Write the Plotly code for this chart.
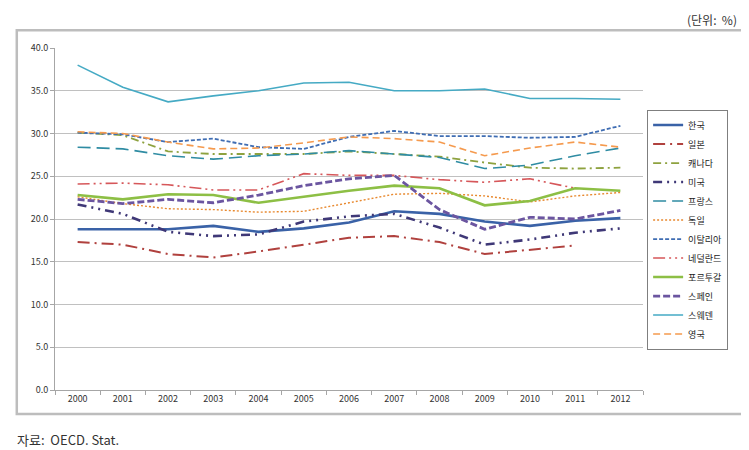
import plotly.graph_objects as go

years = [str(y) for y in range(2000, 2013)]

korea       = [18.8, 18.8, 18.8, 19.2, 18.5, 18.9, 19.6, 20.9, 20.6, 19.7, 19.2, 19.8, 20.1]
japan       = [17.3, 17.0, 15.9, 15.5, 16.2, 17.0, 17.8, 18.0, 17.3, 15.9, 16.4, 16.9, None]
canada      = [30.1, 29.8, 27.9, 27.6, 27.6, 27.6, 27.9, 27.6, 27.3, 26.6, 26.0, 25.9, 26.0]
usa         = [21.7, 20.6, 18.5, 18.0, 18.2, 19.7, 20.3, 20.6, 19.0, 17.0, 17.6, 18.4, 18.9]
france      = [28.4, 28.2, 27.4, 27.0, 27.4, 27.6, 28.0, 27.6, 27.2, 25.9, 26.3, 27.4, 28.3]
germany     = [22.6, 21.8, 21.2, 21.1, 20.8, 20.9, 21.9, 22.9, 23.0, 22.7, 22.0, 22.7, 23.1]
italy       = [30.1, 29.9, 29.0, 29.4, 28.4, 28.2, 29.6, 30.3, 29.7, 29.7, 29.5, 29.6, 30.9]
netherlands = [24.1, 24.2, 24.0, 23.4, 23.4, 25.3, 25.1, 25.1, 24.6, 24.3, 24.7, 23.6, None]
portugal    = [22.8, 22.3, 22.9, 22.8, 21.9, 22.6, 23.3, 23.9, 23.6, 21.6, 22.1, 23.6, 23.3]
spain       = [22.3, 21.8, 22.3, 21.9, 22.8, 23.9, 24.7, 25.1, 21.1, 18.8, 20.2, 20.0, 21.0]
sweden      = [38.0, 35.4, 33.7, 34.4, 35.0, 35.9, 36.0, 35.0, 35.0, 35.2, 34.1, 34.1, 34.0]
uk          = [30.2, 30.0, 29.0, 28.2, 28.3, 28.9, 29.6, 29.4, 29.0, 27.4, 28.3, 29.0, 28.4]

y_ticks = [0, 5, 10, 15, 20, 25, 30, 35, 40]

series = [
    ("한국", korea, "#3a62a7", 2.6, "solid"),
    ("일본", japan, "#b0413e", 2.0, "12px,5px,2px,5px"),
    ("캐나다", canada, "#8ea23f", 1.8, "8px,4px,2px,4px"),
    ("미국", usa, "#3f3877", 2.6, "9px,5px,2px,5px,2px,5px"),
    ("프랑스", france, "#2f8ca3", 1.6, "13px,6px"),
    ("독일", germany, "#e8892f", 1.4, "2px,2px"),
    ("이탈리아", italy, "#3f6db3", 1.8, "4px,2px"),
    ("네덜란드", netherlands, "#d6575a", 1.6, "12px,4px,2px,4px,2px,4px"),
    ("포르투갈", portugal, "#8dbf45", 2.6, "solid"),
    ("스페인", spain, "#6b55a0", 2.8, "7px,3px"),
    ("스웨덴", sweden, "#45aac4", 1.6, "solid"),
    ("영국", uk, "#f59a4e", 1.6, "7px,4px"),
]

fig = go.Figure()
for name, vals, color, width, dash in series:
    fig.add_trace(go.Scatter(
        x=years, y=vals, name=name, mode="lines",
        line=dict(color=color, width=width, dash=dash),
        connectgaps=False,
    ))

font_family = "Noto Sans CJK KR, DejaVu Sans, sans-serif"

fig.update_layout(
    width=749, height=450,
    margin=dict(l=47, r=114, t=40, b=68),
    paper_bgcolor="white", plot_bgcolor="white",
    font=dict(family=font_family, size=9, color="#333333"),
    showlegend=True,
    legend=dict(
        x=1.007, y=0.82, xanchor="left", yanchor="top",
        bordercolor="#7f7f7f", borderwidth=1,
        font=dict(size=9, color="#222222"),
        itemwidth=30, tracegroupgap=0,
        bgcolor="white",
    ),
    xaxis=dict(
        type="category", range=[-0.5, 12.5],
        showgrid=False, showline=True, linecolor="#a6a6a6", linewidth=1,
        ticks="outside", tickson="boundaries", ticklen=4, tickcolor="#a6a6a6",
        tickfont=dict(size=9, color="#333333"),
    ),
    yaxis=dict(
        range=[0, 40], tickvals=y_ticks, tickformat=".1f",
        showgrid=True, gridcolor="#c0c0c0", gridwidth=1,
        showline=True, linecolor="#a6a6a6", linewidth=1,
        ticks="outside", ticklen=4, tickcolor="#a6a6a6",
        tickfont=dict(size=9, color="#333333"),
        zeroline=False,
    ),
    shapes=[
        dict(type="rect", xref="paper", yref="paper",
             x0=-0.065, x1=1.172, y0=-0.07, y1=1.052,
             line=dict(color="#bdbdbd", width=2.5), fillcolor="rgba(0,0,0,0)",
             layer="below"),
    ],
    annotations=[
        dict(text="(단위:  %)", xref="paper", yref="paper", x=1.163, y=1.083,
             xanchor="right", yanchor="middle", showarrow=False,
             font=dict(size=12, color="#333333", family=font_family)),
        dict(text="자료:  OECD. Stat.", xref="paper", yref="paper", x=-0.068, y=-0.146,
             xanchor="left", yanchor="middle", showarrow=False,
             font=dict(size=13, color="#333333", family=font_family)),
    ],
)

fig.write_html("out.html")
